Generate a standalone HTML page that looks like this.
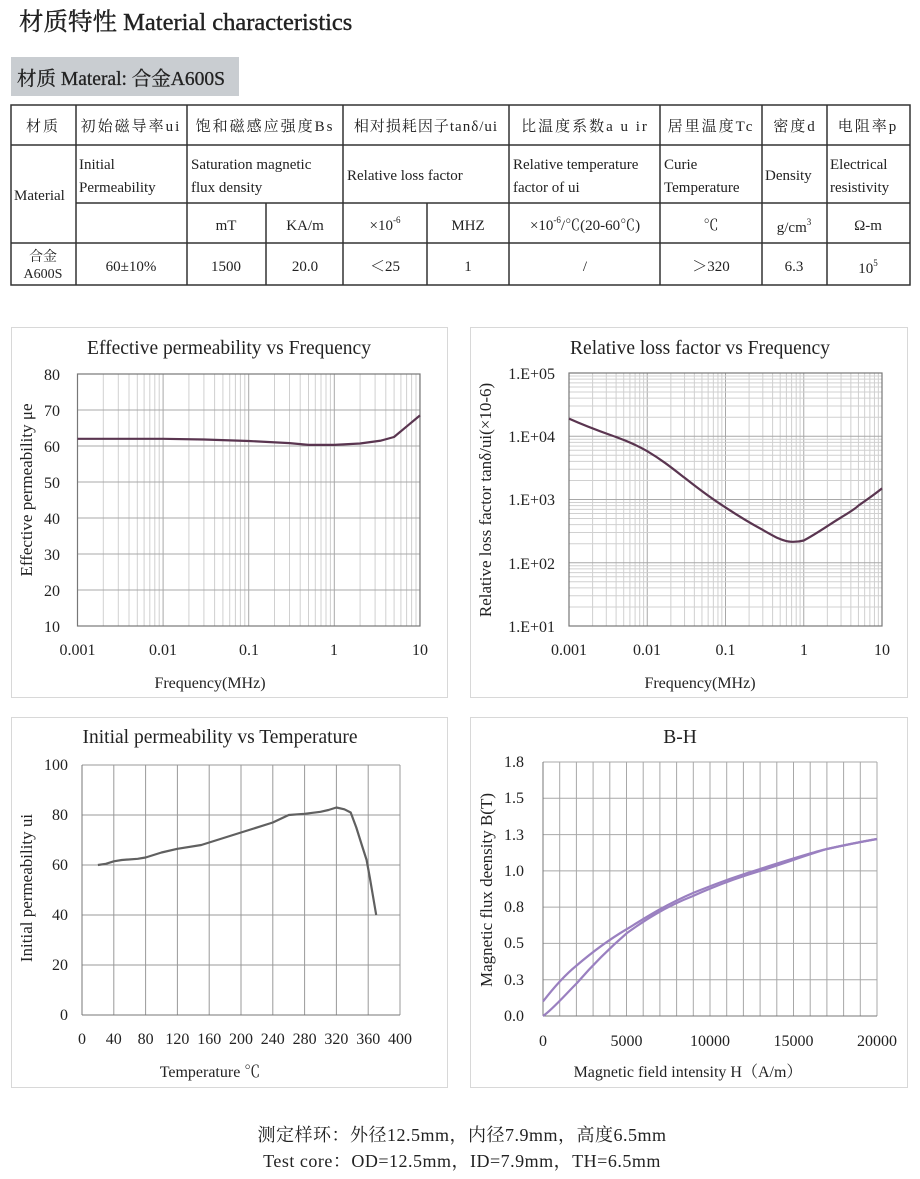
<!DOCTYPE html>
<html><head><meta charset="utf-8"><style>
html,body{margin:0;padding:0;background:#fff;}
svg{display:block;font-family:"Liberation Serif","Noto Serif CJK SC",serif;}
</style></head><body>
<svg width="920" height="1179" viewBox="0 0 920 1179" xmlns="http://www.w3.org/2000/svg">
<defs>
<g id="d1" stroke="#d0d0d0" stroke-width="1"><line x1="25.8" y1="374" x2="25.8" y2="626"/><line x1="40.8" y1="374" x2="40.8" y2="626"/><line x1="51.5" y1="374" x2="51.5" y2="626"/><line x1="59.8" y1="374" x2="59.8" y2="626"/><line x1="66.6" y1="374" x2="66.6" y2="626"/><line x1="72.3" y1="374" x2="72.3" y2="626"/><line x1="77.3" y1="374" x2="77.3" y2="626"/><line x1="81.7" y1="374" x2="81.7" y2="626"/><line x1="85.6" y1="374" x2="85.6" y2="626" stroke="#a8a8a8"/></g>
<g id="d2" stroke="#d0d0d0" stroke-width="1"><line x1="23.6" y1="373" x2="23.6" y2="626"/><line x1="37.3" y1="373" x2="37.3" y2="626"/><line x1="47.1" y1="373" x2="47.1" y2="626"/><line x1="54.7" y1="373" x2="54.7" y2="626"/><line x1="60.9" y1="373" x2="60.9" y2="626"/><line x1="66.1" y1="373" x2="66.1" y2="626"/><line x1="70.7" y1="373" x2="70.7" y2="626"/><line x1="74.6" y1="373" x2="74.6" y2="626"/><line x1="78.25" y1="373" x2="78.25" y2="626" stroke="#a8a8a8"/></g>
<g id="h2" stroke="#d0d0d0" stroke-width="1"><line x1="569" y1="-19" x2="882" y2="-19"/><line x1="569" y1="-30.2" x2="882" y2="-30.2"/><line x1="569" y1="-38.1" x2="882" y2="-38.1"/><line x1="569" y1="-44.2" x2="882" y2="-44.2"/><line x1="569" y1="-49.2" x2="882" y2="-49.2"/><line x1="569" y1="-53.4" x2="882" y2="-53.4"/><line x1="569" y1="-57.1" x2="882" y2="-57.1"/><line x1="569" y1="-60.3" x2="882" y2="-60.3"/><line x1="569" y1="-63.25" x2="882" y2="-63.25" stroke="#a8a8a8"/></g>
</defs>

<text x="19" y="30" font-size="24.5" fill="#222" stroke="#222" stroke-width="0.4">材质特性 Material characteristics</text>
<rect x="11" y="57" width="228" height="39" fill="#c9cdd1"/>
<text x="17" y="85" font-size="19.5" fill="#222" stroke="#222" stroke-width="0.3">材质 Materal: 合金A600S</text>

<!-- table -->
<g stroke="#333" stroke-width="1.5" fill="none">
<rect x="11" y="105" width="899" height="180"/>
<line x1="11" y1="145" x2="910" y2="145"/>
<line x1="76" y1="203" x2="910" y2="203"/>
<line x1="11" y1="243" x2="910" y2="243"/>
<line x1="76" y1="105" x2="76" y2="285"/>
<line x1="187" y1="105" x2="187" y2="285"/>
<line x1="266" y1="203" x2="266" y2="285"/>
<line x1="343" y1="105" x2="343" y2="285"/>
<line x1="427" y1="203" x2="427" y2="285"/>
<line x1="509" y1="105" x2="509" y2="285"/>
<line x1="660" y1="105" x2="660" y2="285"/>
<line x1="762" y1="105" x2="762" y2="285"/>
<line x1="827" y1="105" x2="827" y2="285"/>
</g>
<g font-size="15" fill="#222">
<g letter-spacing="2">
<text x="43" y="131" text-anchor="middle">材质</text>
<text x="131" y="131" text-anchor="middle">初始磁导率ui</text>
<text x="265" y="131" text-anchor="middle">饱和磁感应强度Bs</text>
<text x="585" y="131" text-anchor="middle">比温度系数a u ir</text>
<text x="711" y="131" text-anchor="middle">居里温度Tc</text>
<text x="795" y="131" text-anchor="middle">密度d</text>
<text x="868" y="131" text-anchor="middle">电阻率p</text>
</g>
<text x="426" y="131" text-anchor="middle" letter-spacing="1">相对损耗因子tanδ/ui</text>
<text x="14" y="200">Material</text>
<text x="79" y="169">Initial</text>
<text x="79" y="192">Permeability</text>
<text x="191" y="169">Saturation magnetic</text>
<text x="191" y="192">flux density</text>
<text x="347" y="180">Relative loss factor</text>
<text x="513" y="169">Relative temperature</text>
<text x="513" y="192">factor of ui</text>
<text x="664" y="169">Curie</text>
<text x="664" y="192">Temperature</text>
<text x="765" y="180">Density</text>
<text x="830" y="169">Electrical</text>
<text x="830" y="192">resistivity</text>
<text x="226" y="230" text-anchor="middle">mT</text>
<text x="305" y="230" text-anchor="middle">KA/m</text>
<text x="385" y="230" text-anchor="middle">×10<tspan font-size="9" dy="-7">-6</tspan></text>
<text x="468" y="230" text-anchor="middle">MHZ</text>
<text x="585" y="230" text-anchor="middle">×10<tspan font-size="9" dy="-7">-6</tspan><tspan dy="7">/℃(20-60℃)</tspan></text>
<text x="711" y="230" text-anchor="middle">℃</text>
<text x="794" y="232" text-anchor="middle">g/cm<tspan font-size="9" dy="-7">3</tspan></text>
<text x="868" y="230" text-anchor="middle">Ω-m</text>
<text x="43" y="261" text-anchor="middle" font-size="14">合金</text>
<text x="43" y="278" text-anchor="middle" font-size="14">A600S</text>
<text x="131" y="271" text-anchor="middle">60±10%</text>
<text x="226" y="271" text-anchor="middle">1500</text>
<text x="305" y="271" text-anchor="middle">20.0</text>
<text x="385" y="271" text-anchor="middle">＜25</text>
<text x="468" y="271" text-anchor="middle">1</text>
<text x="585" y="271" text-anchor="middle">/</text>
<text x="711" y="271" text-anchor="middle">＞320</text>
<text x="794" y="271" text-anchor="middle">6.3</text>
<text x="868" y="273" text-anchor="middle">10<tspan font-size="9" dy="-7">5</tspan></text>
</g>

<!-- panels -->
<g fill="none" stroke="#d8d8d8" stroke-width="1">
<rect x="11.5" y="327.5" width="436" height="370"/>
<rect x="470.5" y="327.5" width="437" height="370"/>
<rect x="11.5" y="717.5" width="436" height="370"/>
<rect x="470.5" y="717.5" width="437" height="370"/>
</g>

<!-- Chart 1 -->
<use href="#d1" transform="translate(77.5,0)"/>
<use href="#d1" transform="translate(163.1,0)"/>
<use href="#d1" transform="translate(248.7,0)"/>
<use href="#d1" transform="translate(334.3,0)"/>
<g stroke="#a8a8a8"><line x1="77.5" y1="410" x2="420" y2="410"/><line x1="77.5" y1="446" x2="420" y2="446"/><line x1="77.5" y1="482" x2="420" y2="482"/><line x1="77.5" y1="518" x2="420" y2="518"/><line x1="77.5" y1="554" x2="420" y2="554"/><line x1="77.5" y1="590" x2="420" y2="590"/></g>
<rect x="77.5" y="374" width="342.5" height="252" fill="none" stroke="#777" stroke-width="1.2"/>
<path d="M77.5,438.8 L163,438.8 L204,439.5 L248.7,441 L289.5,443.1 L308.5,444.9 L334.3,444.9 L360,443.5 L381,440.6 L394,437 L407,426.2 L420,415.4" fill="none" stroke="#5a3550" stroke-width="2.2" stroke-linejoin="round"/>
<g font-size="16" fill="#222">
<text x="229" y="354" text-anchor="middle" font-size="19.5">Effective permeability vs Frequency</text>
<g text-anchor="end"><text x="60" y="380">80</text><text x="60" y="416">70</text><text x="60" y="452">60</text><text x="60" y="488">50</text><text x="60" y="524">40</text><text x="60" y="560">30</text><text x="60" y="596">20</text><text x="60" y="632">10</text></g>
<g text-anchor="middle"><text x="77.5" y="655">0.001</text><text x="163" y="655">0.01</text><text x="249" y="655">0.1</text><text x="334" y="655">1</text><text x="420" y="655">10</text></g>
<text x="210" y="688" text-anchor="middle">Frequency(MHz)</text>
<text transform="translate(32,490) rotate(-90)" text-anchor="middle" font-size="17">Effective permeability μe</text>
</g>

<!-- Chart 2 -->
<use href="#d2" transform="translate(569,0)"/>
<use href="#d2" transform="translate(647.25,0)"/>
<use href="#d2" transform="translate(725.5,0)"/>
<use href="#d2" transform="translate(803.75,0)"/>
<use href="#h2" transform="translate(0,626)"/>
<use href="#h2" transform="translate(0,562.75)"/>
<use href="#h2" transform="translate(0,499.5)"/>
<use href="#h2" transform="translate(0,436.25)"/>
<rect x="569" y="373" width="313" height="253" fill="none" stroke="#777" stroke-width="1.2"/>
<path d="M569,418.6 C590,428 605,433 616,437 C630,442 640,447 647.25,451.2 C662,460 672,468 684.6,477.8 C700,490 712,499 725.5,507.4 C740,517 750,523 762.8,529.9 C775,537 783,541.5 791.6,541.8 C797,542 800,541.5 803.75,540.5 C818,533 830,524 841,517.5 C850,512 855,509 858.4,505.6 C868,499 875,494 882,488.4" fill="none" stroke="#5a3550" stroke-width="2.2"/>
<g font-size="16" fill="#222">
<text x="700" y="354" text-anchor="middle" font-size="19.5">Relative loss factor vs Frequency</text>
<g text-anchor="end"><text x="555" y="379">1.E+05</text><text x="555" y="442">1.E+04</text><text x="555" y="505">1.E+03</text><text x="555" y="569">1.E+02</text><text x="555" y="632">1.E+01</text></g>
<g text-anchor="middle"><text x="569" y="655">0.001</text><text x="647" y="655">0.01</text><text x="725.5" y="655">0.1</text><text x="804" y="655">1</text><text x="882" y="655">10</text></g>
<text x="700" y="688" text-anchor="middle">Frequency(MHz)</text>
<text transform="translate(491,500) rotate(-90)" text-anchor="middle" font-size="17">Relative loss factor tanδ/ui(×10-6)</text>
</g>

<!-- Chart 3 -->
<g stroke="#999" stroke-width="1">
<line x1="113.8" y1="765" x2="113.8" y2="1015"/><line x1="145.6" y1="765" x2="145.6" y2="1015"/><line x1="177.4" y1="765" x2="177.4" y2="1015"/><line x1="209.2" y1="765" x2="209.2" y2="1015"/><line x1="241" y1="765" x2="241" y2="1015"/><line x1="272.8" y1="765" x2="272.8" y2="1015"/><line x1="304.6" y1="765" x2="304.6" y2="1015"/><line x1="336.4" y1="765" x2="336.4" y2="1015"/><line x1="368.2" y1="765" x2="368.2" y2="1015"/><line x1="400" y1="765" x2="400" y2="1015"/>
<line x1="82" y1="765" x2="400" y2="765"/><line x1="82" y1="815" x2="400" y2="815"/><line x1="82" y1="865" x2="400" y2="865"/><line x1="82" y1="915" x2="400" y2="915"/><line x1="82" y1="965" x2="400" y2="965"/>
</g>
<line x1="82" y1="765" x2="82" y2="1015" stroke="#777"/><line x1="82" y1="1015" x2="400" y2="1015" stroke="#777"/>
<polyline points="97.9,865 105.9,863.8 113.8,861.3 121.8,860 137.7,858.8 145.6,857.5 161.5,852.5 177.4,848.8 201.3,845 209.2,842.5 241,832.5 272.8,822.5 288.7,815 304.6,813.8 320.5,811.8 328.5,810 336.4,807.5 344.4,809.3 350.7,812.5 356.3,827.5 361.8,845 366.6,860 369.8,877.5 376.2,915" fill="none" stroke="#606060" stroke-width="2.2" stroke-linejoin="round"/>
<g font-size="16" fill="#222">
<text x="220" y="743" text-anchor="middle" font-size="19.5">Initial permeability vs Temperature</text>
<g text-anchor="end"><text x="68" y="770">100</text><text x="68" y="820">80</text><text x="68" y="870">60</text><text x="68" y="920">40</text><text x="68" y="970">20</text><text x="68" y="1020">0</text></g>
<g text-anchor="middle"><text x="82" y="1044">0</text><text x="113.8" y="1044">40</text><text x="145.6" y="1044">80</text><text x="177.4" y="1044">120</text><text x="209.2" y="1044">160</text><text x="241" y="1044">200</text><text x="272.8" y="1044">240</text><text x="304.6" y="1044">280</text><text x="336.4" y="1044">320</text><text x="368.2" y="1044">360</text><text x="400" y="1044">400</text></g>
<text x="210" y="1077" text-anchor="middle">Temperature ℃</text>
<text transform="translate(32,888) rotate(-90)" text-anchor="middle" font-size="17">Initial permeability  ui</text>
</g>

<!-- Chart 4 -->
<g stroke="#a8a8a8" stroke-width="1">
<line x1="559.7" y1="762" x2="559.7" y2="1016"/><line x1="576.4" y1="762" x2="576.4" y2="1016"/><line x1="593.1" y1="762" x2="593.1" y2="1016"/><line x1="609.8" y1="762" x2="609.8" y2="1016"/><line x1="626.5" y1="762" x2="626.5" y2="1016"/><line x1="643.2" y1="762" x2="643.2" y2="1016"/><line x1="659.9" y1="762" x2="659.9" y2="1016"/><line x1="676.6" y1="762" x2="676.6" y2="1016"/><line x1="693.3" y1="762" x2="693.3" y2="1016"/><line x1="710" y1="762" x2="710" y2="1016"/><line x1="726.7" y1="762" x2="726.7" y2="1016"/><line x1="743.4" y1="762" x2="743.4" y2="1016"/><line x1="760.1" y1="762" x2="760.1" y2="1016"/><line x1="776.8" y1="762" x2="776.8" y2="1016"/><line x1="793.5" y1="762" x2="793.5" y2="1016"/><line x1="810.2" y1="762" x2="810.2" y2="1016"/><line x1="826.9" y1="762" x2="826.9" y2="1016"/><line x1="843.6" y1="762" x2="843.6" y2="1016"/><line x1="860.3" y1="762" x2="860.3" y2="1016"/><line x1="877" y1="762" x2="877" y2="1016"/>
<line x1="543" y1="762" x2="877" y2="762"/><line x1="543" y1="798.3" x2="877" y2="798.3"/><line x1="543" y1="834.6" x2="877" y2="834.6"/><line x1="543" y1="870.9" x2="877" y2="870.9"/><line x1="543" y1="907.1" x2="877" y2="907.1"/><line x1="543" y1="943.4" x2="877" y2="943.4"/><line x1="543" y1="979.7" x2="877" y2="979.7"/>
</g>
<line x1="543" y1="762" x2="543" y2="1016" stroke="#777"/><line x1="543" y1="1016" x2="877" y2="1016" stroke="#777"/>
<path d="M543,1001.5 C555,986 565,975 576,966 C590,954 610,939 627,929 C645,918 665,905 693,893 C715,884 740,875 760,869 C785,861 810,853 827,849 C845,845 860,842 877,839" fill="none" stroke="#9a80c0" stroke-width="2.2"/>
<path d="M543,1016 C552,1010 565,995 577,983 C590,968 605,952 627,933 C645,920 665,907 693,896 C715,886 740,877 760,871 C785,863 810,854 827,849 C845,845 860,842 877,839" fill="none" stroke="#9a80c0" stroke-width="2.2"/>
<g font-size="16" fill="#222">
<text x="680" y="743" text-anchor="middle" font-size="19.5">B-H</text>
<g text-anchor="end"><text x="524" y="767">1.8</text><text x="524" y="803">1.5</text><text x="524" y="840">1.3</text><text x="524" y="876">1.0</text><text x="524" y="912">0.8</text><text x="524" y="948">0.5</text><text x="524" y="985">0.3</text><text x="524" y="1021">0.0</text></g>
<g text-anchor="middle"><text x="543" y="1046">0</text><text x="626.5" y="1046">5000</text><text x="710" y="1046">10000</text><text x="793.5" y="1046">15000</text><text x="877" y="1046">20000</text></g>
<text x="688" y="1077" text-anchor="middle">Magnetic field intensity H（A/m）</text>
<text transform="translate(492,890) rotate(-90)" text-anchor="middle" font-size="17">Magnetic flux deensity B(T)</text>
</g>

<g font-size="18" fill="#222" text-anchor="middle" letter-spacing="0.5">
<text x="462" y="1141">测定样环：外径12.5mm，内径7.9mm，高度6.5mm</text>
<text x="462" y="1167">Test core：OD=12.5mm，ID=7.9mm，TH=6.5mm</text>
</g>
</svg>
</body></html>
